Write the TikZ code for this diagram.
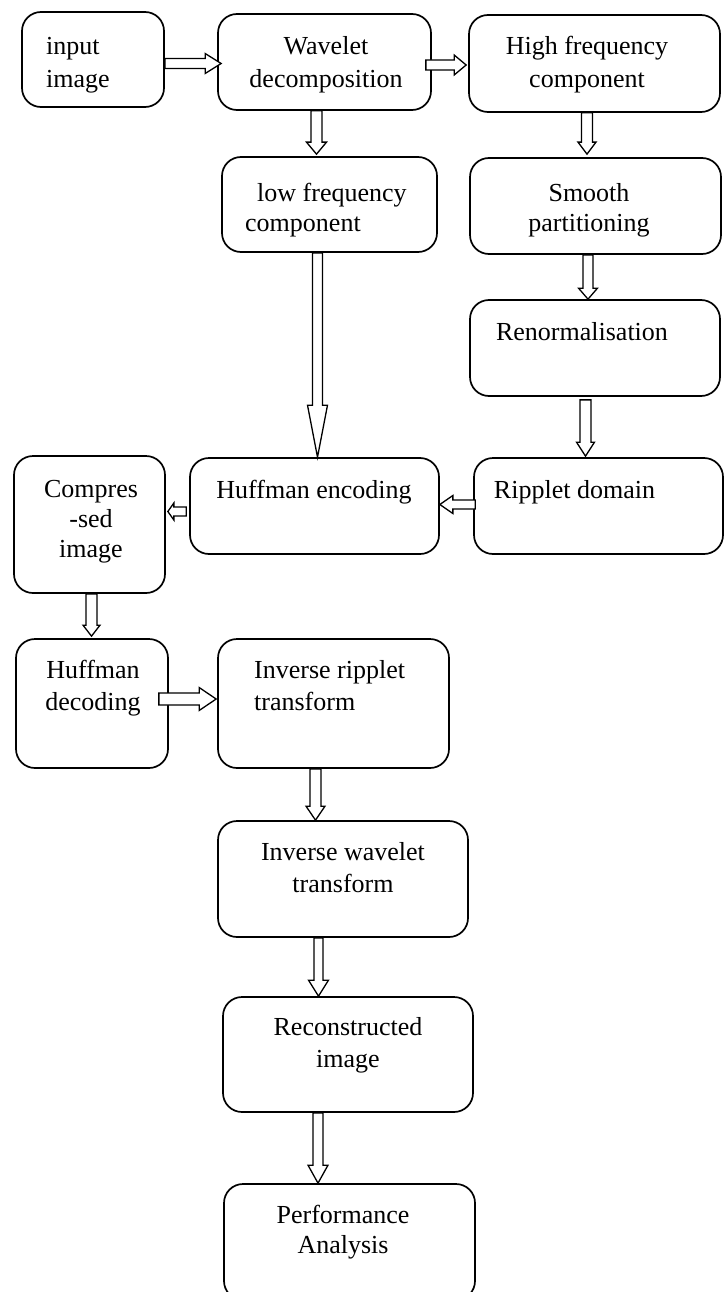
\documentclass[tikz,border=0pt]{standalone}
\usepackage{fontspec}
\setmainfont{Liberation Serif}
\usetikzlibrary{calc}
\newcommand\dnblk[6]{% from, to, x, shaft half width, head half width, head length
  \draw[barrow] let \p1=(#1), \p2=(#2), \p3=(#3,0) in
    (\x3-#4pt,\y1) -- (\x3+#4pt,\y1) -- (\x3+#4pt,\y2+#6pt) -- (\x3+#5pt,\y2+#6pt)
    -- (\x3,\y2) -- (\x3-#5pt,\y2+#6pt) -- (\x3-#4pt,\y2+#6pt) -- cycle;}
\newcommand\hzblk[6]{% from, to, y, shaft half width, head half width, signed head length
  \draw[barrow] let \p1=(#1), \p2=(#2), \p3=(0,#3) in
    (\x1,\y3+#4pt) -- (\x2-#6pt,\y3+#4pt) -- (\x2-#6pt,\y3+#5pt) -- (\x2,\y3)
    -- (\x2-#6pt,\y3-#5pt) -- (\x2-#6pt,\y3-#4pt) -- (\x1,\y3-#4pt) -- cycle;}
\tikzset{
  box/.style={draw, line width=1.7pt, rounded corners=19pt, inner sep=0pt},
  barrow/.style={draw, fill=white, line width=1.3pt, line join=miter},
  txt/.style={inner sep=0pt, anchor=base, align=center, font=\fontsize{26}{32}\selectfont},
  txtl/.style={txt, anchor=base west, align=left},
  wide/.style={font=\fontsize{26}{33}\selectfont},
  tight/.style={font=\fontsize{26}{30}\selectfont},
}
\begin{document}
\begin{tikzpicture}[x=1pt,y=-1pt]
\useasboundingbox (0,0) rectangle (725,1292);
\fill[white] (0,0) rectangle (725,1292);
\clip (0,0) rectangle (725,1292);
% boxes
\node[box, minimum width=142pt, minimum height=95pt] (inp) at (93,59.5) {};
\node[box, minimum width=213pt, minimum height=96pt] (wav) at (324.5,62) {};
\node[box, minimum width=251pt, minimum height=97pt] (hif) at (594.5,63.5) {};
\node[box, minimum width=215pt, minimum height=95pt] (low) at (329.5,204.5) {};
\node[box, minimum width=251pt, minimum height=96pt] (smo) at (595.5,206) {};
\node[box, minimum width=250pt, minimum height=96pt] (ren) at (595,348) {};
\node[box, minimum width=249pt, minimum height=96pt] (rip) at (598.5,506) {};
\node[box, minimum width=249pt, minimum height=96pt] (hen) at (314.5,506) {};
\node[box, minimum width=151pt, minimum height=137pt] (cmp) at (89.5,524.5) {};
\node[box, minimum width=152pt, minimum height=129pt] (hde) at (92,703.5) {};
\node[box, minimum width=231pt, minimum height=129pt] (irt) at (333.5,703.5) {};
\node[box, minimum width=250pt, minimum height=116pt] (iwt) at (343,879) {};
\node[box, minimum width=250pt, minimum height=115pt] (rec) at (348,1054.5) {};
\node[box, minimum width=251pt, minimum height=116pt] (per) at (349.5,1242) {};
% texts (base = baseline of the last line)
\node[txtl, wide] (inp-t) at (46,88) {input\\image};
\node[txt, wide] (wav-t) at (326,88) {Wavelet\\decomposition};
\node[txt, wide] (hif-t) at (587,88) {High frequency\\component};
\node[txtl, tight] (low-t) at (245,231) {\hspace*{12pt}low frequency\\component};
\node[txt, tight] (smo-t) at (589,231) {Smooth\\partitioning};
\node[txt] (ren-t) at (582,340) {Renormalisation};
\node[txt] (rip-t) at (574.5,498) {Ripplet domain};
\node[txt] (hen-t) at (314,498) {Huffman encoding};
\node[txt, tight] (cmp-t) at (91,557) {Compres\\-sed\\image};
\node[txt] (hde-t) at (93,710) {Huffman\\decoding};
\node[txtl] (irt-t) at (254,710) {Inverse ripplet\\transform};
\node[txt] (iwt-t) at (343,892) {Inverse wavelet\\transform};
\node[txt] (rec-t) at (348,1067) {Reconstructed\\image};
\node[txt, tight] (per-t) at (343,1253) {Performance\\Analysis};
% block arrows
\hzblk{inp.east}{$(wav.west)+(4,0)$}{63.5}{5}{10}{16}
\hzblk{$(wav.east)+(-6,0)$}{$(hif.west)+(-2,0)$}{65}{5}{10}{12}
\dnblk{wav.south}{$(low.north)+(0,-2)$}{316.5}{5.5}{10}{12}
\dnblk{hif.south}{$(smo.north)+(0,-3)$}{587}{5.5}{9}{12}
\dnblk{low.south}{hen.north}{317.5}{5}{10}{52}
\dnblk{smo.south}{ren.north}{588}{5}{9.5}{11}
\dnblk{$(ren.south)+(0,3)$}{$(rip.north)+(0,-1)$}{585.5}{5.5}{9}{14}
\hzblk{$(rip.west)+(2,0)$}{hen.east}{504.5}{4.5}{9}{-13}
\hzblk{$(hen.west)+(-3,0)$}{$(cmp.east)+(2,0)$}{511.5}{4.5}{8.5}{-6}
\dnblk{cmp.south}{$(hde.north)+(0,-2)$}{91.5}{5.5}{8.5}{11}
\hzblk{$(hde.east)+(-10,0)$}{$(irt.west)+(-1,0)$}{699}{6}{11.5}{17}
\dnblk{irt.south}{iwt.north}{315.5}{5.5}{9.5}{14}
\dnblk{iwt.south}{rec.north}{318.5}{4.5}{10}{16}
\dnblk{rec.south}{per.north}{318}{5}{10}{18}
\end{tikzpicture}
\end{document}
